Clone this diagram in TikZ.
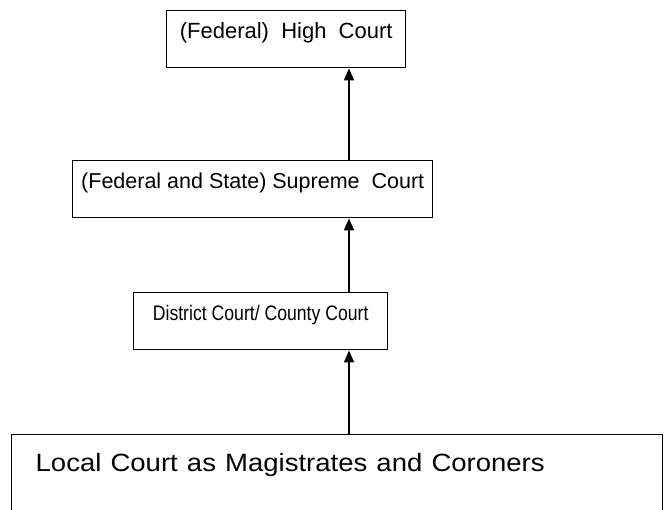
\documentclass[tikz,border=0pt]{standalone}
\usepackage{fontspec}
\setmainfont{Liberation Sans}
\usetikzlibrary{arrows.meta}
\tikzset{
  court/.style={draw, line width=1.4pt, anchor=north west, inner xsep=0pt, inner ysep=4pt,
    font=\fontsize{22}{26}\selectfont, text height=24pt, text depth=25pt},
  uparrow/.style={line width=1.4pt, -{Triangle[length=12pt,width=10pt]}}
}
\begin{document}
\begin{tikzpicture}[x=1pt,y=-1pt]
\useasboundingbox (0,0) rectangle (672,510);
\clip (0,0) rectangle (672,510);
\coordinate (axis) at (349,0);
\node[court, minimum width=239pt] (high) at (166,10) {(Federal)\ \ High\ \ Court};
\node[court, minimum width=360pt, font=\fontsize{21.5}{26}\selectfont] (supreme) at (72,160) {(Federal and State) Supreme\ \ Court};
\node[court, minimum width=254pt, font=\fontsize{21}{26}\selectfont] (district) at (133,292) {\scalebox{0.84}[1]{District Court/ County Court}};
\node[court, text width=603pt, inner xsep=24pt, align=left, text height=33pt, text depth=80pt, font=\fontsize{25}{30}\selectfont] (local) at (11,434) {\scalebox{1.10}[1]{Local Court as Magistrates and Coroners}};
\draw[uparrow] (supreme.north -| axis) -- (high.south -| axis);
\draw[uparrow] (district.north -| axis) -- (supreme.south -| axis);
\draw[uparrow] (local.north -| axis) -- (district.south -| axis);
\end{tikzpicture}
\end{document}
